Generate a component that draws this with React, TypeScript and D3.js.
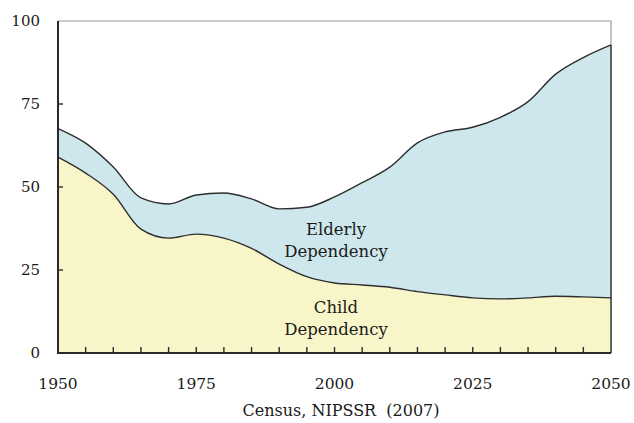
import React, { useEffect, useRef } from 'react';
import * as d3 from 'd3';

const years = [
  1950, 1955, 1960, 1965, 1970, 1975, 1980, 1985, 1990, 1995, 2000,
  2005, 2010, 2015, 2020, 2025, 2030, 2035, 2040, 2045, 2050,
];
// child dependency ratio
const child = [
  59.0, 54.2, 47.8, 37.3, 34.6, 35.8, 34.6, 31.5, 26.8, 23.0, 21.1,
  20.5, 19.8, 18.5, 17.5, 16.6, 16.3, 16.6, 17.1, 16.9, 16.6,
];
// total dependency ratio (child + elderly)
const total = [
  67.6, 63.2, 56.0, 46.7, 44.9, 47.6, 48.2, 46.4, 43.4, 43.9, 47.0,
  51.3, 56.0, 63.3, 66.6, 68.0, 71.0, 75.7, 84.0, 89.0, 92.8,
];
const yTicks = [0, 25, 50, 75, 100];
const xTickLabels = [1950, 1975, 2000, 2025, 2050];
const source = 'Census, NIPSSR  (2007)';

const SERIF = '"DejaVu Serif", serif';

export default function App() {
  const svgRef = useRef<SVGSVGElement>(null);

  useEffect(() => {
    const svg = d3.select(svgRef.current);
    svg.selectAll('*').remove();
    const left = 58;
    const right = 611;
    const top = 21;
    const bottom = 353;

    const x = d3.scaleLinear().domain([1950, 2050]).range([left, right]);
    const y = d3.scaleLinear().domain([0, 100]).range([bottom, top]);

    const rows = years.map((yr, i) => ({ yr, c: child[i], t: total[i] }));
    const curve = d3.curveMonotoneX;

    // frame (top/right in grey)
    svg.append('path')
      .attr('d', `M${left},${top}H${right}V${bottom}`)
      .attr('fill', 'none')
      .attr('stroke', '#9a9a9a')
      .attr('stroke-width', 1.2);

    const elderlyArea = d3.area<any>()
      .x((d) => x(d.yr))
      .y0((d) => y(d.c))
      .y1((d) => y(d.t))
      .curve(curve);
    const childArea = d3.area<any>()
      .x((d) => x(d.yr))
      .y0(y(0))
      .y1((d) => y(d.c))
      .curve(curve);

    svg.append('path').attr('d', elderlyArea(rows)).attr('fill', '#cde7ed');
    svg.append('path').attr('d', childArea(rows)).attr('fill', '#f8f6c8');

    const line = (key: 'c' | 't') =>
      d3.line<any>().x((d) => x(d.yr)).y((d) => y(d[key])).curve(curve);
    ['t', 'c'].forEach((k) => {
      svg.append('path')
        .attr('d', line(k as any)(rows))
        .attr('fill', 'none')
        .attr('stroke', '#2e2e2e')
        .attr('stroke-width', 1.4);
    });

    // right edge of the data
    svg.append('line')
      .attr('x1', right).attr('x2', right)
      .attr('y1', y(total[total.length - 1])).attr('y2', bottom)
      .attr('stroke', '#2e2e2e').attr('stroke-width', 1.4);

    // axes
    svg.append('path')
      .attr('d', `M${left},${top}V${bottom}H${right}`)
      .attr('fill', 'none')
      .attr('stroke', '#2a2a2a')
      .attr('stroke-width', 2);

    yTicks.forEach((v) => {
      if (v > 0 && v < 100) {
        svg.append('line')
          .attr('x1', left).attr('x2', left + 5)
          .attr('y1', y(v)).attr('y2', y(v))
          .attr('stroke', '#2a2a2a').attr('stroke-width', 1.4);
      }
      svg.append('text')
        .attr('x', 40).attr('y', y(v) + 5)
        .attr('text-anchor', 'end')
        .attr('font-family', SERIF)
        .attr('font-size', 15)
        .attr('fill', '#1a1a1a')
        .text(v);
    });

    years.forEach((yr) => {
      if (yr === 1950 || yr === 2050) return;
      svg.append('line')
        .attr('x1', x(yr)).attr('x2', x(yr))
        .attr('y1', bottom).attr('y2', bottom - 6)
        .attr('stroke', '#2a2a2a').attr('stroke-width', 1.4);
    });

    xTickLabels.forEach((yr) => {
      svg.append('text')
        .attr('x', x(yr)).attr('y', 389)
        .attr('text-anchor', 'middle')
        .attr('font-family', SERIF)
        .attr('font-size', 15.5)
        .attr('fill', '#1a1a1a')
        .text(yr);
    });

    svg.append('text')
      .attr('x', 341).attr('y', 416)
      .attr('text-anchor', 'middle')
      .attr('font-family', SERIF)
      .attr('font-size', 16)
      .attr('fill', '#1a1a1a')
      .style('white-space', 'pre')
      .text(source);

    const label = (lines: string[], cx: number, y0: number) => {
      lines.forEach((s, i) => {
        svg.append('text')
          .attr('x', cx).attr('y', y0 + i * 22)
          .attr('text-anchor', 'middle')
          .attr('font-family', SERIF)
          .attr('font-size', 16.5)
          .attr('fill', '#1a1a1a')
          .text(s);
      });
    };
    label(['Elderly', 'Dependency'], 336, 235);
    label(['Child', 'Dependency'], 336, 313);
  }, []);

  return (
    <svg
      ref={svgRef}
      width={634}
      height={423}
      style={{ position: 'absolute', left: 0, top: 0, background: '#fff' }}
    />
  );
}
